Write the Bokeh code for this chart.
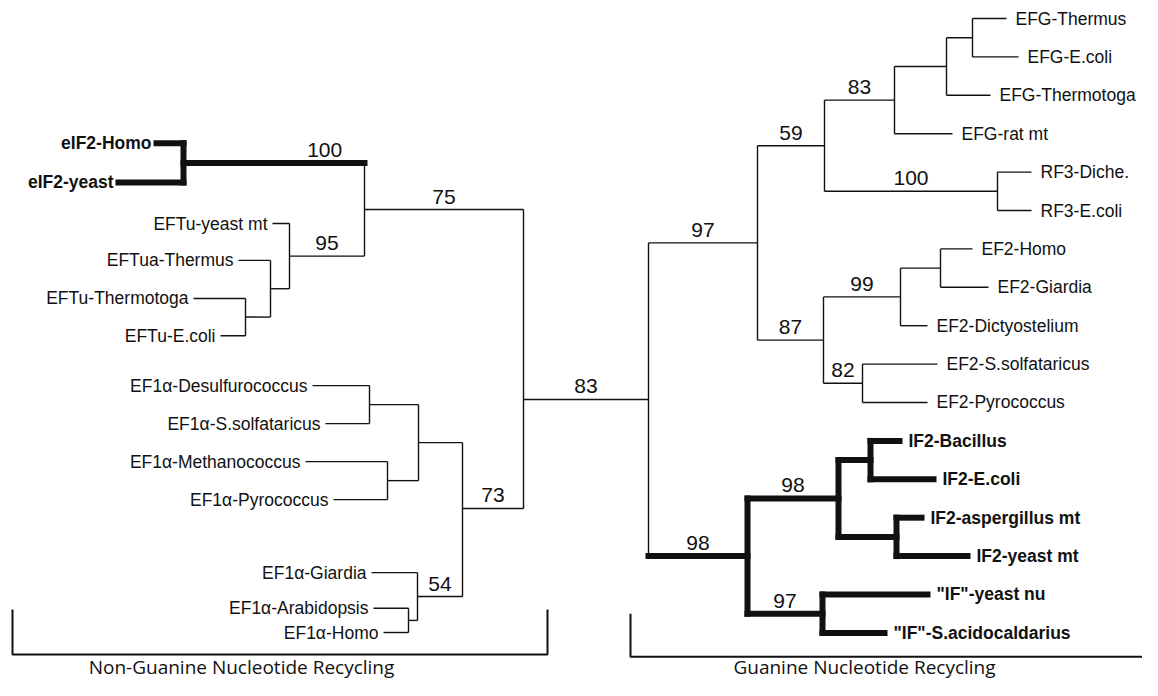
from bokeh.plotting import figure
from bokeh.models import Range1d, ColumnDataSource
from bokeh.embed import file_html
from bokeh.resources import INLINE
from bokeh.core.properties import value

# ---------------- data ----------------
# Left group (non-guanine nucleotide recycling), leaves top to bottom
left_leaves = ["eIF2-Homo", "eIF2-yeast", "EFTu-yeast mt", "EFTua-Thermus",
               "EFTu-Thermotoga", "EFTu-E.coli", "EF1\u03b1-Desulfurococcus",
               "EF1\u03b1-S.solfataricus", "EF1\u03b1-Methanococcus",
               "EF1\u03b1-Pyrococcus", "EF1\u03b1-Giardia",
               "EF1\u03b1-Arabidopsis", "EF1\u03b1-Homo"]
left_leaf_rows = [3.25, 4.27, 5.34, 6.30, 7.29, 8.26, 9.56, 10.55, 11.54,
                  12.53, 14.43, 15.36, 15.99]
left_leaf_depth = [156, 118, 272, 238, 193, 220, 312, 325, 305, 333, 371, 373, 383]

left_node_ids = ["eIF2", "TuC", "TuB", "Tu95", "A75", "F1", "G1", "E1",
                 "I1", "H54", "D73", "L"]
left_node_children = [["eIF2-Homo", "eIF2-yeast"],
                      ["EFTu-Thermotoga", "EFTu-E.coli"],
                      ["EFTua-Thermus", "TuC"],
                      ["EFTu-yeast mt", "TuB"],
                      ["eIF2", "Tu95"],
                      ["EF1\u03b1-Desulfurococcus", "EF1\u03b1-S.solfataricus"],
                      ["EF1\u03b1-Methanococcus", "EF1\u03b1-Pyrococcus"],
                      ["F1", "G1"],
                      ["EF1\u03b1-Arabidopsis", "EF1\u03b1-Homo"],
                      ["EF1\u03b1-Giardia", "I1"],
                      ["E1", "H54"],
                      ["A75", "D73"]]
left_node_depth = [183, 245, 270, 289, 364, 369, 387, 418, 408, 417, 462, 523]
left_node_support = [100, None, None, 95, 75, None, None, None, None, 54, 73, None]

# Right group (guanine nucleotide recycling), leaves top to bottom
right_leaves = ["EFG-Thermus", "EFG-E.coli", "EFG-Thermotoga", "EFG-rat mt",
                "RF3-Diche.", "RF3-E.coli", "EF2-Homo", "EF2-Giardia",
                "EF2-Dictyostelium", "EF2-S.solfataricus", "EF2-Pyrococcus",
                "IF2-Bacillus", "IF2-E.coli", "IF2-aspergillus mt",
                "IF2-yeast mt", "\"IF\"-yeast nu", "\"IF\"-S.acidocaldarius"]
right_leaf_rows = list(range(17))
right_leaf_depth = [1006, 1018, 990, 952, 1031, 1031, 972, 988, 927, 937, 927,
                    899, 933, 921, 967, 927, 884]

right_node_ids = ["TE", "TTE", "G83", "RF3", "G59", "HG", "E99", "E82", "E87",
                  "G97", "BE", "AY", "I98", "IF97", "M98", "R"]
right_node_children = [["EFG-Thermus", "EFG-E.coli"],
                       ["TE", "EFG-Thermotoga"],
                       ["TTE", "EFG-rat mt"],
                       ["RF3-Diche.", "RF3-E.coli"],
                       ["G83", "RF3"],
                       ["EF2-Homo", "EF2-Giardia"],
                       ["HG", "EF2-Dictyostelium"],
                       ["EF2-S.solfataricus", "EF2-Pyrococcus"],
                       ["E99", "E82"],
                       ["G59", "E87"],
                       ["IF2-Bacillus", "IF2-E.coli"],
                       ["IF2-aspergillus mt", "IF2-yeast mt"],
                       ["BE", "AY"],
                       ["\"IF\"-yeast nu", "\"IF\"-S.acidocaldarius"],
                       ["I98", "IF97"],
                       ["G97", "M98"]]
right_node_depth = [972, 946, 894, 997, 824, 940, 900, 862, 823, 757, 870, 896,
                    838, 822, 747, 648]
right_node_support = [None, None, 83, 100, 59, None, 99, 82, 87, 97, None,
                      None, 98, 97, 98, None]

root_support = 83
bold_clades = ["eIF2", "M98"]
group_titles = ["Non-Guanine Nucleotide Recycling", "Guanine Nucleotide Recycling"]

# ---------------- layout helpers ----------------
row_override = {"D73": 12.76}
label_frac = {"eIF2": 0.78}

pos = {}
children = {}
support = {}
for names, rows, depth in ((left_leaves, left_leaf_rows, left_leaf_depth),
                           (right_leaves, right_leaf_rows, right_leaf_depth)):
    for n, r, d in zip(names, rows, depth):
        pos[n] = (d, r)
for ids, ch, dep, sup in ((left_node_ids, left_node_children, left_node_depth, left_node_support),
                          (right_node_ids, right_node_children, right_node_depth, right_node_support)):
    for i, c, d, s in zip(ids, ch, dep, sup):
        y = row_override.get(i, (pos[c[0]][1] + pos[c[-1]][1]) / 2.0)
        pos[i] = (d, y)
        children[i] = c
        support[i] = s

parent = {c: n for n, cs in children.items() for c in cs}

thick = set()
def mark(n):
    thick.add(n)
    for c in children.get(n, []):
        mark(c)
for b in bold_clades:
    mark(b)

segs = {True: dict(x0=[], y0=[], x1=[], y1=[]), False: dict(x0=[], y0=[], x1=[], y1=[])}
def add(t, x0, y0, x1, y1):
    d = segs[t]
    d["x0"].append(x0); d["y0"].append(y0); d["x1"].append(x1); d["y1"].append(y1)

for n, cs in children.items():
    nx, ny = pos[n]
    ys = [pos[c][1] for c in cs]
    add(n in thick, nx, min(ys), nx, max(ys))
    for c in cs:
        cx, cy = pos[c]
        add(c in thick, nx, cy, cx, cy)
# root edge
add(False, pos["L"][0], pos["R"][1], pos["R"][0], pos["R"][1])

# ---------------- figure ----------------
p = figure(width=1142, height=680, x_range=Range1d(0, 1142),
           y_range=Range1d(17.24, -0.469), min_border=0,
           x_axis_location=None, y_axis_location=None,
           output_backend="svg", toolbar_location=None)
p.xgrid.visible = False
p.ygrid.visible = False
p.outline_line_color = None
p.background_fill_color = "white"
p.border_fill_color = "white"

p.segment(x0="x0", y0="y0", x1="x1", y1="y1", source=ColumnDataSource(segs[False]),
          line_color="#111111", line_width=1.4)
p.segment(x0="x0", y0="y0", x1="x1", y1="y1", source=ColumnDataSource(segs[True]),
          line_color="#111111", line_width=6, line_cap="square")

# leaf labels
FONT = value("Liberation Sans")
for names, align, off in ((left_leaves, "right", -5), (right_leaves, "left", 9)):
    for bold in (False, True):
        sel = [n for n in names if (n in thick) == bold]
        src = ColumnDataSource(dict(x=[pos[n][0] for n in sel], y=[pos[n][1] for n in sel], t=sel))
        p.text(x="x", y="y", text="t", source=src, text_align=align,
               text_baseline="middle", x_offset=off, text_font=FONT,
               text_font_size="17.5px", text_color="#111111",
               text_font_style="bold" if bold else "normal")

# support values
sx, sy, st = [], [], []
for n, s in support.items():
    if s is None:
        continue
    cx, cy = pos[n]
    px_ = pos[parent[n]][0]
    f = label_frac.get(n, 0.5)
    sx.append(cx + f * (px_ - cx)); sy.append(cy); st.append(str(s))
sx.append((pos["L"][0] + pos["R"][0]) / 2); sy.append(pos["R"][1]); st.append(str(root_support))
p.text(x="x", y="y", text="t", source=ColumnDataSource(dict(x=sx, y=sy, t=st)),
       text_align="center", text_baseline="middle", y_offset=-13,
       text_font=FONT, text_font_size="21px", text_color="#111111")

# group brackets
p.line(x=[12, 12, 547, 547], y=[15.39, 16.56, 16.56, 15.39], line_color="#111111", line_width=2)
p.line(x=[630, 630, 1150], y=[15.50, 16.62, 16.62], line_color="#111111", line_width=2)
p.text(x=[241, 864], y=[16.88, 16.88], text=group_titles, text_align="center",
       text_baseline="middle", text_font=value("Open Sans"), text_font_size="19px",
       text_color="#111111")

open("out.html", "w").write(file_html(p, INLINE))
